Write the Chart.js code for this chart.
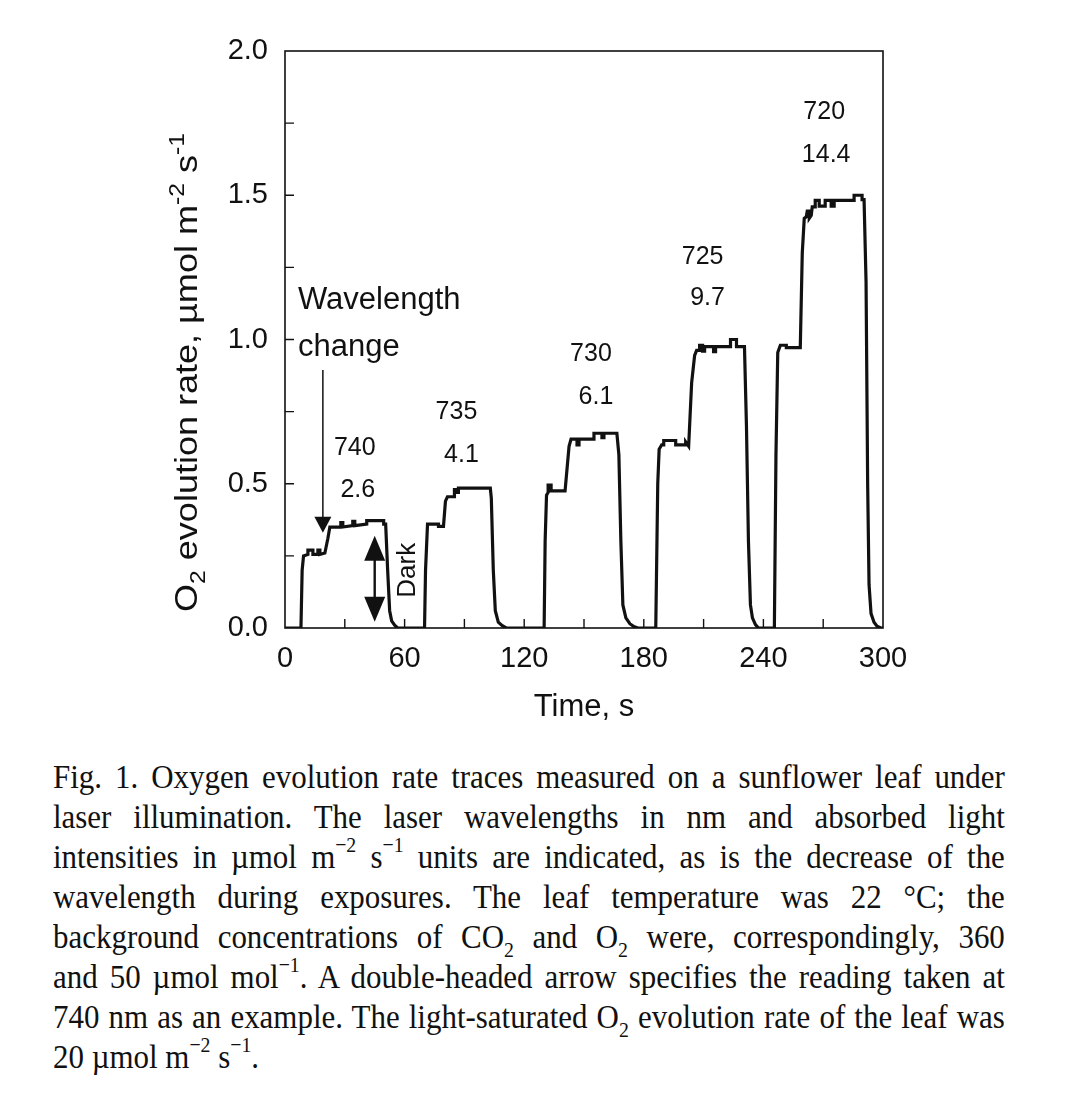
<!DOCTYPE html>
<html>
<head>
<meta charset="utf-8">
<script src="https://cdn.jsdelivr.net/npm/chart.js@4.4.0/dist/chart.umd.min.js"></script>
<style>
    body { margin: 0; background: #fff; width: 1067px; height: 1111px; overflow: hidden; position: relative; }
    #wrap { position: absolute; left: 0; top: 0; width: 1067px; height: 740px; }
    #caption {
        position: absolute; left: 53px; top: 757px; width: 1046px;
        transform: scaleX(0.91); transform-origin: 0 0;
        font-family: "Liberation Serif", "Times New Roman", serif;
        font-size: 34px; line-height: 40px; color: #111;
    }
    #caption .ln { text-align: justify; text-align-last: justify; white-space: nowrap; height: 40px; }
    #caption .ln.last { text-align-last: left; }
    #caption sup { font-size: 0.64em; line-height: 0; position: relative; top: -0.15em; vertical-align: super; }
    #caption sub { font-size: 0.64em; line-height: 0; position: relative; top: 0.05em; vertical-align: sub; }
</style>
</head>
<body>
<div id="wrap"><canvas id="o2Chart" width="1067" height="740"></canvas></div>
<div id="caption">
    <div class="ln">Fig. 1. Oxygen evolution rate traces measured on a sunflower leaf under</div>
    <div class="ln">laser illumination. The laser wavelengths in nm and absorbed light</div>
    <div class="ln">intensities in µmol m<sup>−2</sup> s<sup>−1</sup> units are indicated, as is the decrease of the</div>
    <div class="ln">wavelength during exposures. The leaf temperature was 22 °C; the</div>
    <div class="ln">background concentrations of CO<sub>2</sub> and O<sub>2</sub> were, correspondingly, 360</div>
    <div class="ln">and 50 µmol mol<sup>−1</sup>. A double-headed arrow specifies the reading taken at</div>
    <div class="ln">740 nm as an example. The light-saturated O<sub>2</sub> evolution rate of the leaf was</div>
    <div class="ln last">20 µmol m<sup>−2</sup> s<sup>−1</sup>.</div>
</div>
<script>
// Trace: time (s) and O2 evolution rate
const timeS = [
    0, 8, 8.6, 9.3, 11.5, 11.5, 14, 14, 16.5, 16.5, 17.5, 17.5, 20, 21.5, 22.5, 28, 28, 29, 29, 34,
    34, 35, 35, 41, 41, 49.5, 49.5, 50.5, 51.5, 52.5, 53.5, 55, 56.5, 70,
    70.5, 71.5, 77, 77, 79.5, 80.5, 81.5, 85, 85, 86, 86, 87, 87, 103, 103.5, 104.5, 105.5, 107, 109, 111, 130,
    130.5, 131.2, 132, 132, 133.5, 133.5, 140.5, 142.5, 143.5, 146.5, 146.5, 147.5, 147.5, 155, 155, 159, 159,
    160, 160, 166.5, 167.5, 168.5, 169.5, 171, 173, 175, 177, 186,
    187, 187.7, 189, 190, 190, 196, 196, 201, 201, 202.5, 204, 205.5, 206.5, 208, 208, 209.5, 209.5, 210.5,
    210.5, 215, 215, 216, 216, 223.5, 223.5, 226.5, 226.5, 230.5, 231.5, 232.5, 233.5, 234.5, 236, 237.5, 245.5,
    246.3, 247.2, 248.5, 251.5, 251.5, 258.5, 259.5, 260.5, 261.5, 262, 263, 263, 264, 264.5, 266, 266, 268, 268,
    271, 271, 274, 274, 275.5, 275.5, 285.5, 285.5, 289.5, 289.5, 290.5, 291.5, 292.3, 293, 294, 295.5, 297, 299, 300
];
const rateO2 = [
    0, 0, 0.2, 0.25, 0.255, 0.27, 0.27, 0.255, 0.255, 0.27, 0.27, 0.255, 0.26, 0.31, 0.35, 0.35, 0.365, 0.365, 0.35, 0.355,
    0.37, 0.37, 0.355, 0.36, 0.372, 0.372, 0.36, 0.36, 0.2, 0.06, 0.025, 0.01, 0, 0,
    0.2, 0.36, 0.36, 0.352, 0.352, 0.44, 0.455, 0.455, 0.48, 0.48, 0.47, 0.47, 0.485, 0.485, 0.45, 0.2, 0.06, 0.02, 0.008, 0, 0,
    0.3, 0.46, 0.47, 0.495, 0.495, 0.475, 0.475, 0.63, 0.655, 0.655, 0.635, 0.635, 0.655, 0.655, 0.675, 0.675, 0.66,
    0.66, 0.675, 0.675, 0.6, 0.3, 0.08, 0.035, 0.015, 0.005, 0, 0,
    0.5, 0.62, 0.635, 0.635, 0.65, 0.65, 0.635, 0.635, 0.645, 0.63, 0.85, 0.945, 0.962, 0.962, 0.98, 0.98, 0.96, 0.96,
    0.975, 0.975, 0.958, 0.958, 0.975, 0.975, 1.0, 1.0, 0.975, 0.975, 0.7, 0.3, 0.08, 0.035, 0.012, 0, 0,
    0.6, 0.955, 0.98, 0.98, 0.972, 0.972, 1.3, 1.42, 1.425, 1.445, 1.445, 1.42, 1.43, 1.46, 1.46, 1.482, 1.482, 1.462,
    1.462, 1.482, 1.482, 1.462, 1.462, 1.482, 1.482, 1.5, 1.5, 1.485, 1.485, 1.2, 0.5, 0.15, 0.05, 0.02, 0.006, 0, 0
];

// Axis ticks
const xMajorStep = 60;
const xTickMarks = [30, 60, 90, 120, 150, 180, 210, 240, 270];
const yMajorStep = 0.5;
const yTickMarks = [0.25, 0.5, 0.75, 1.0, 1.25, 1.5, 1.75];

// Wavelength (nm) / absorbed intensity labels, anchored in data units
const waveLabels = ['740', '735', '730', '725', '720'];
const waveAnchorX = [35, 86, 153.5, 209.5, 270.5];
const waveAnchorY = [0.624, 0.749, 0.95, 1.286, 1.789];
const intensityLabels = ['2.6', '4.1', '6.1', '9.7', '14.4'];
const intensityAnchorX = [36.5, 88.5, 156, 212, 271.5];
const intensityAnchorY = [0.478, 0.6, 0.8, 1.144, 1.64];

// Arrows and notes (data units)
const changeArrow = { x: 19, yFrom: 0.894, yTo: 0.33 };
const readingArrow = { x: 45, yLow: 0.022, yHigh: 0.32 };
const darkLabel = { x: 61.5, y: 0.2 };
const noteLabel = { x: 6.5, y1: 1.137, y2: 0.971 };

const INK = '#111';
const SANS = '"Liberation Sans", Arial, Helvetica, sans-serif';

const points = timeS.map((t, i) => ({ x: t, y: rateO2[i] }));

function arrowHead(ctx, x, tipY, dir, w, h) {
    // dir = 1 points down, -1 points up
    ctx.beginPath();
    ctx.moveTo(x, tipY);
    ctx.lineTo(x - w / 2, tipY - dir * h);
    ctx.lineTo(x + w / 2, tipY - dir * h);
    ctx.closePath();
    ctx.fill();
}

const figurePlugin = {
    id: 'figureExtras',
    afterDatasetsDraw(chart) {
        const { ctx, chartArea: ca, scales: { x, y } } = chart;
        ctx.save();
        ctx.strokeStyle = INK;
        ctx.fillStyle = INK;

        // frame
        ctx.lineWidth = 1.6;
        ctx.strokeRect(ca.left, ca.top, ca.right - ca.left, ca.bottom - ca.top);

        // inward ticks
        ctx.lineWidth = 1.4;
        ctx.beginPath();
        xTickMarks.forEach(v => {
            const px = x.getPixelForValue(v);
            ctx.moveTo(px, ca.bottom);
            ctx.lineTo(px, ca.bottom - 9);
        });
        yTickMarks.forEach(v => {
            const py = y.getPixelForValue(v);
            ctx.moveTo(ca.left, py);
            ctx.lineTo(ca.left + 9, py);
        });
        ctx.stroke();

        // wavelength / intensity labels
        ctx.font = '25px ' + SANS;
        ctx.textAlign = 'center';
        ctx.textBaseline = 'middle';
        waveLabels.forEach((t, i) => {
            ctx.fillText(t, x.getPixelForValue(waveAnchorX[i]), y.getPixelForValue(waveAnchorY[i]));
        });
        intensityLabels.forEach((t, i) => {
            ctx.fillText(t, x.getPixelForValue(intensityAnchorX[i]), y.getPixelForValue(intensityAnchorY[i]));
        });

        // "Wavelength change" note
        ctx.font = '31px ' + SANS;
        ctx.textAlign = 'left';
        ctx.fillText('Wavelength', x.getPixelForValue(noteLabel.x), y.getPixelForValue(noteLabel.y1));
        ctx.fillText('change', x.getPixelForValue(noteLabel.x), y.getPixelForValue(noteLabel.y2));

        // single arrow for the wavelength change
        const ax = x.getPixelForValue(changeArrow.x);
        const aTip = y.getPixelForValue(changeArrow.yTo);
        ctx.lineWidth = 1.5;
        ctx.beginPath();
        ctx.moveTo(ax, y.getPixelForValue(changeArrow.yFrom));
        ctx.lineTo(ax, aTip - 10);
        ctx.stroke();
        arrowHead(ctx, ax, aTip, 1, 17, 16);

        // double-headed reading arrow
        const bx = x.getPixelForValue(readingArrow.x);
        const bTop = y.getPixelForValue(readingArrow.yHigh);
        const bBot = y.getPixelForValue(readingArrow.yLow);
        ctx.lineWidth = 2.4;
        ctx.beginPath();
        ctx.moveTo(bx, bTop + 15);
        ctx.lineTo(bx, bBot - 15);
        ctx.stroke();
        arrowHead(ctx, bx, bTop, -1, 21, 25);
        arrowHead(ctx, bx, bBot, 1, 21, 25);

        // "Dark"
        ctx.save();
        ctx.translate(x.getPixelForValue(darkLabel.x), y.getPixelForValue(darkLabel.y));
        ctx.rotate(-Math.PI / 2);
        ctx.font = '26px ' + SANS;
        ctx.textAlign = 'center';
        ctx.textBaseline = 'middle';
        ctx.fillText('Dark', 0, 0);
        ctx.restore();

        // y-axis title with sub/superscripts, stretched to the reference length
        const runs = [
            { t: 'O', size: 32, dy: 0 },
            { t: '2', size: 22, dy: 8 },
            { t: ' evolution rate, µmol m', size: 32, dy: 0 },
            { t: '-2', size: 22, dy: -13 },
            { t: ' s', size: 32, dy: 0 },
            { t: '-1', size: 22, dy: -13 }
        ];
        let total = 0;
        runs.forEach(r => {
            ctx.font = r.size + 'px ' + SANS;
            total += ctx.measureText(r.t).width;
        });
        const yStart = y.getPixelForValue(0) - 16;
        const yEnd = ca.top + 82;
        ctx.save();
        ctx.translate(197, yStart);
        ctx.rotate(-Math.PI / 2);
        ctx.scale((yStart - yEnd) / total, 1);
        ctx.textAlign = 'left';
        ctx.textBaseline = 'alphabetic';
        let cx = 0;
        runs.forEach(r => {
            ctx.font = r.size + 'px ' + SANS;
            ctx.fillText(r.t, cx, r.dy);
            cx += ctx.measureText(r.t).width;
        });
        ctx.restore();

        ctx.restore();
    }
};

new Chart(document.getElementById('o2Chart'), {
    type: 'line',
    data: {
        datasets: [{
            data: points,
            borderColor: INK,
            borderWidth: 3.2,
            pointRadius: 0,
            tension: 0,
            fill: false
        }]
    },
    options: {
        responsive: false,
        animation: false,
        layout: { padding: { top: 51, right: 184, left: 0, bottom: 0 } },
        plugins: { legend: { display: false }, tooltip: { enabled: false } },
        scales: {
            x: {
                type: 'linear',
                min: 0,
                max: 300,
                grid: { display: false, drawTicks: false },
                border: { display: false },
                ticks: {
                    stepSize: xMajorStep,
                    padding: 14,
                    color: INK,
                    font: { family: SANS, size: 29 },
                    maxRotation: 0
                },
                title: {
                    display: true,
                    text: 'Time, s',
                    color: INK,
                    font: { family: SANS, size: 31 },
                    padding: { top: 4, bottom: 14 }
                },
                afterFit: s => { s.height = 740 - 628; }
            },
            y: {
                min: 0,
                max: 2,
                grid: { display: false, drawTicks: false },
                border: { display: false },
                ticks: {
                    stepSize: yMajorStep,
                    padding: 17,
                    color: INK,
                    font: { family: SANS, size: 29 },
                    callback: v => v.toFixed(1)
                },
                afterFit: s => { s.width = 285; }
            }
        }
    },
    plugins: [figurePlugin]
});
</script>
</body>
</html>
